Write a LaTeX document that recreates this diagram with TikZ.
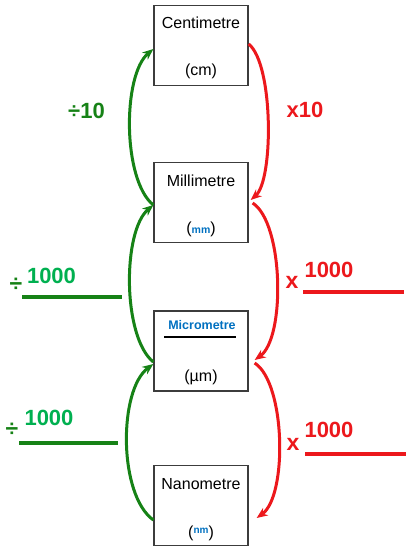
\documentclass[tikz,border=0pt]{standalone}
\usepackage{fontspec}
\setmainfont{Liberation Sans}
\usetikzlibrary{arrows.meta,calc}
\definecolor{dkgreen}{RGB}{22,130,22}
\definecolor{ltgreen}{RGB}{0,176,80}
\definecolor{myred}{RGB}{236,24,28}
\definecolor{myblue}{RGB}{0,112,192}
\definecolor{boxgray}{RGB}{60,60,60}
\tikzset{
  unitbox/.style={draw=boxgray,line width=1.3pt,minimum width=94pt,minimum height=80pt,inner sep=0pt},
  boxtext/.style={anchor=base,inner sep=0pt,font=\fontsize{16}{18}\selectfont},
  greenarc/.style={draw=dkgreen,line width=3pt,-{Stealth[length=11pt,width=9pt]}},
  redarc/.style={draw=myred,line width=3pt,-{Stealth[length=11pt,width=9pt]}},
  bignum/.style={anchor=base,inner sep=0pt,font=\fontsize{22}{24}\selectfont\bfseries},
  opsym/.style={anchor=center,inner sep=0pt,font=\fontsize{23}{24}\selectfont\bfseries},
  greenrule/.style={draw=dkgreen,line width=3.5pt},
  redrule/.style={draw=myred,line width=3.5pt},
}
\begin{document}
\begin{tikzpicture}[x=1pt,y=-1pt]
\useasboundingbox (0,0) rectangle (416,557);
% boxes
\node[unitbox] (cm) at (201,45.5) {};
\node[unitbox] (mm) at (201,202.5) {};
\node[unitbox] (um) at (201,351) {};
\node[unitbox] (nm) at (201,505.5) {};
% box texts
\node[boxtext] (cmname) at (201,28) {Centimetre};
\node[boxtext] (cmsym) at (201,75) {(cm)};
\node[boxtext] (mmname) at (201,186) {Millimetre};
\node[boxtext] (mmsym) at (201,233) {(\textcolor{myblue}{\fontsize{10.5}{12}\selectfont\bfseries mm})};
\node[anchor=base,inner sep=0pt,font=\fontsize{12.5}{14}\selectfont\bfseries,text=myblue] (umname) at (202,329) {Micrometre};
\draw[line width=1.6pt,black] (164,337) -- (236,337);
\node[boxtext] (umsym) at (201,381) {(µm)};
\node[boxtext] (nmname) at (201,489) {Nanometre};
\node[boxtext] (nmsym) at (201,537) {(\raisebox{4pt}{\textcolor{myblue}{\fontsize{10}{12}\selectfont\bfseries nm}})};
% green arcs (divide, going up)
\draw[greenarc] ([yshift=-2.5pt]mm.west) .. controls +(-31,-25) and +(-31,26) .. ([yshift=-3.5pt]cm.west);
\draw[greenarc] ([yshift=-11pt]um.west) .. controls +(-31,-25) and +(-31,26) .. ([yshift=-2.5pt]mm.west);
\draw[greenarc] ([yshift=-14.5pt]nm.west) .. controls +(-35,-25) and +(-35,26) .. ([yshift=-13pt]um.west);
% red arcs (multiply, going down)
\draw[redarc] ([yshift=1.5pt]cm.east) .. controls +(25,20) and +(23,-20) .. ([xshift=2pt,yshift=2.5pt]mm.east);
\draw[redarc] ([xshift=4pt,yshift=-0.5pt]mm.east) .. controls +(31,20) and +(31,-22) .. ([xshift=6pt,yshift=-9pt]um.east);
\draw[redarc] ([xshift=6pt,yshift=-12pt]um.east) .. controls +(31,20) and +(31,-22) .. ([xshift=8pt,yshift=-12.5pt]nm.east);
% labels
\node[bignum,text=dkgreen] (d10) at (86.5,118) {÷10};
\node[bignum,text=myred] (x10) at (305,117) {x10};
\node[opsym,text=dkgreen] (dtop) at (16,285) {÷};
\node[bignum,text=ltgreen] (ntopl) at (51.5,283) {1000};
\draw[greenrule] (22,297) -- (122,297);
\node[opsym,text=dkgreen] (dbot) at (12,430) {÷};
\node[bignum,text=ltgreen] (nbotl) at (49,425) {1000};
\draw[greenrule] (19,443) -- (118,443);
\node[opsym,text=myred] (xtop) at (292,282) {x};
\node[bignum,text=myred] (ntopr) at (329,277) {1000};
\draw[redrule] (303,292) -- (404,292);
\node[opsym,text=myred] (xbot) at (293,444) {x};
\node[bignum,text=myred] (nbotr) at (329,437) {1000};
\draw[redrule] (305,454) -- (406,454);
\end{tikzpicture}
\end{document}
